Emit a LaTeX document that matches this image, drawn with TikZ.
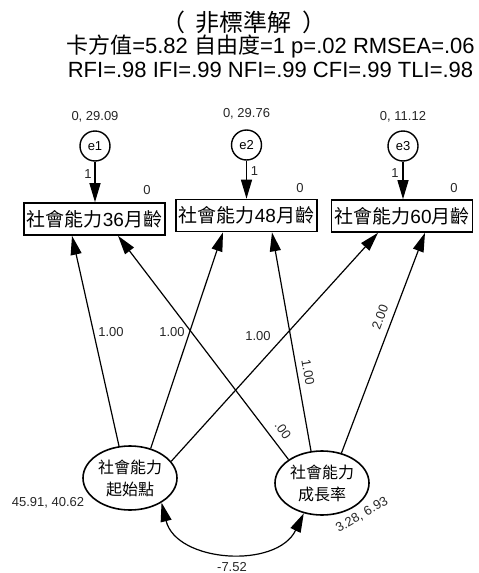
\documentclass[tikz,border=0pt]{standalone}
\usepackage{fontspec}
\setmainfont{Liberation Sans}
\newfontfamily\cjk{Noto Sans CJK TC}
\usetikzlibrary{arrows.meta,shapes.geometric}
\begin{document}
\begin{tikzpicture}[x=1pt,y=-1pt,
  box/.style={draw,line width=1.6pt,inner xsep=3pt,inner ysep=0pt,minimum width=141pt,minimum height=32pt,font=\fontsize{19}{22}\selectfont},
  err/.style={draw,circle,line width=1.4pt,minimum size=30pt,inner sep=0pt,font=\fontsize{13}{14}\selectfont},
  lat/.style={draw,ellipse,line width=1.6pt,minimum width=94pt,minimum height=64pt,inner sep=0pt,align=center,font=\cjk\fontsize{16}{22}\selectfont},
  tip/.tip={Triangle[length=19pt,width=11pt]},
  pathline/.style={line width=1.2pt,-tip},
  est/.style={font=\fontsize{13}{14}\selectfont,text=black!85,inner sep=0pt},
  head/.style={font=\fontsize{22}{24}\selectfont,anchor=base,inner sep=0pt},
]
\useasboundingbox (0,0) rectangle (479,573);

% header
\node[head,font=\fontsize{24}{26}\selectfont] (title) at (244,31) {\cjk （\hspace{0.45em}非標準解\hspace{0.45em}）};
\node[head] (fit1) at (270.5,53) {{\cjk 卡方值}=5.82 {\cjk 自由度}=1 p=.02 RMSEA=.06};
\node[head] (fit2) at (270.5,77) {RFI=.98 IFI=.99 NFI=.99 CFI=.99 TLI=.98};

% observed variables
\node[box] (b1) at (94.5,219) {{\cjk 社會能力}36{\cjk 月齡}};
\node[box] (b2) at (246.5,215.5) {{\cjk 社會能力}48{\cjk 月齡}};
\node[box] (b3) at (402,216) {{\cjk 社會能力}60{\cjk 月齡}};

% error terms
\node[err] (e1) at (95,146) {e1};
\node[err] (e2) at (246.5,145) {e2};
\node[err] (e3) at (403,146) {e3};

% latent growth factors
\node[lat] (s1) at (130,478) {社會能力\\起始點};
\node[lat] (s2) at (322,483) {社會能力\\成長率};

% arrow end points on the boxes
\coordinate (t11) at ([xshift=-22.5pt]b1.south);
\coordinate (t21) at ([xshift=23.5pt]b1.south);
\coordinate (t12) at ([xshift=-23.5pt]b2.south);
\coordinate (t22) at ([xshift=25.5pt]b2.south);
\coordinate (t13) at ([xshift=-24pt]b3.south);
\coordinate (t23) at ([xshift=23pt]b3.south);

% error paths
\draw[pathline] (e1.south) -- (e1.south |- b1.north);
\draw[pathline] (e2.south) -- (e2.south |- b2.north);
\draw[pathline] (e3.south) -- (e3.south |- b3.north);

% loadings
\draw[pathline] (s1.109) -- (t11);
\draw[pathline] (s1.55) -- (t12);
\draw[pathline] (s1.22) -- (t13);
\draw[pathline] (s2.145) -- (t21);
\draw[pathline] (s2.109) -- (t22);
\draw[pathline] (s2.57) -- (t23);

% factor covariance
\draw[line width=1.2pt,tip-tip]
  (s1.-38) .. controls +(15,60) and +(-27,56) .. (s2.-121);

% estimates
\node[est] (v1) at (95,117) {0, 29.09};
\node[est] (v2) at (246.5,114) {0, 29.76};
\node[est] (v3) at (403,117) {0, 11.12};
\node[est] (m1) at (147,190) {0};
\node[est] (m2) at (300,188) {0};
\node[est] (m3) at (454,188) {0};
\node[est] (w1) at (88,174) {1};
\node[est] (w2) at (254.5,171) {1};
\node[est] (w3) at (395,173) {1};
\node[est] (l11) at (111,332) {1.00};
\node[est] (l12) at (172,332) {1.00};
\node[est] (l13) at (258,336) {1.00};
\node[est,rotate=-54] (l21) at (283,430) {.00};
\node[est,rotate=-80] (l22) at (308,372) {1.00};
\node[est,rotate=70] (l23) at (380,317) {2.00};
\node[est] (vs1) at (48,503) {45.91, 40.62};
\node[est,rotate=30] (vs2) at (362,515) {3.28, 6.93};
\node[est] (cov) at (232,567) {-7.52};
\end{tikzpicture}
\end{document}
